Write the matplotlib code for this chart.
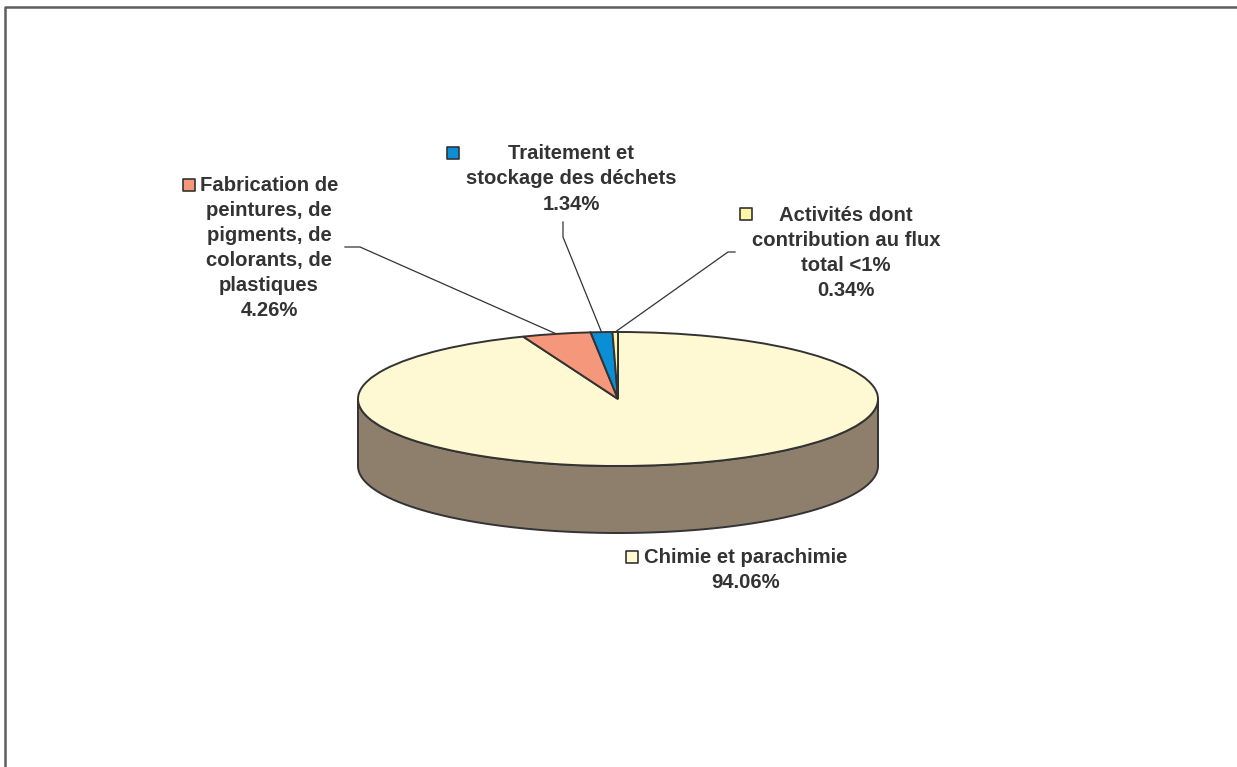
import numpy as np
import matplotlib
matplotlib.use('Agg')
from matplotlib import pyplot as plt

# data
labels = ["Chimie et parachimie",
          "Fabrication de\npeintures, de\npigments, de\ncolorants, de\nplastiques",
          "Traitement et\nstockage des déchets",
          "Activités dont\ncontribution au flux\ntotal <1%"]
values = [94.06, 4.26, 1.34, 0.34]
colors = ['#FFF9D3', '#F5977A', '#0A8FD6', '#FFF7A6']
side_color = '#8E7F6D'
edge = '#333333'

# layout (pixels of the 1237x767 picture)
W, H = 1237, 767
cx, cy, a, b = 618, 399, 260, 67   # pie centre and half axes
depth = 67

def to_data(x, y):
    return (x - cx) / a, (cy - y) / b

fig = plt.figure(figsize=(W / 100, H / 100), dpi=100)
ax = fig.add_axes([0, 0, 1, 1])

# top of the pie
wedges, _ = ax.pie(values, colors=colors, startangle=90, counterclock=False,
                   radius=1, center=(0, 0),
                   wedgeprops=dict(edgecolor=edge, linewidth=1.4, zorder=3))

# side of the cylinder (front half)
t = np.linspace(np.pi, 2 * np.pi, 200)
d = depth / b
xs = np.concatenate([np.cos(t), np.cos(t[::-1])])
ys = np.concatenate([np.sin(t), np.sin(t[::-1]) - d])
ax.fill(xs, ys, facecolor=side_color, edgecolor=edge, linewidth=1.4, zorder=2)

ax.set_aspect('auto')
ax.set_xlim((0 - cx) / a, (W - cx) / a)
ax.set_ylim((cy - H) / b, cy / b)
ax.axis('off')

font = dict(family=['Liberation Sans', 'DejaVu Sans'], fontsize=14.6,
            fontweight='bold', color='#333333', ha='center', va='center',
            linespacing=1.41)

# text centre, legend key, leader line start (elbow) in pixels
text_pos = [(746, 570), (269, 248), (571, 179), (846, 253)]
key_pos = [(632, 557), (189, 185), (453, 153), (746, 214)]
leaders = [None, [(345, 247), (360, 247)], [(563, 222), (563, 237)],
           [(735, 252), (728, 252)]]

for i in range(len(values)):
    tx, ty = to_data(*text_pos[i])
    ax.text(tx, ty, labels[i] + "\n%.2f%%" % values[i], **font)
    kx, ky = to_data(*key_pos[i])
    ax.scatter([kx], [ky], marker='s', s=82, facecolor=colors[i],
               edgecolor=edge, linewidth=1.2, zorder=5)
    if leaders[i] is not None:
        w = wedges[i]
        mid = np.deg2rad((w.theta1 + w.theta2) / 2)
        pts = [to_data(*p) for p in leaders[i]] + [(np.cos(mid), np.sin(mid))]
        ax.plot([p[0] for p in pts], [p[1] for p in pts], color=edge,
                linewidth=0.9, zorder=4)

# outer frame (only left and top edges show)
fx0, fy0 = to_data(5, 7)
fx1, fy1 = to_data(W + 5, H + 5)
ax.plot([fx0, fx0, fx1], [fy1, fy0, fy0], color='#5E5E5E', linewidth=1.8,
        clip_on=False, zorder=6)

fig.savefig('out.png', dpi=100)
